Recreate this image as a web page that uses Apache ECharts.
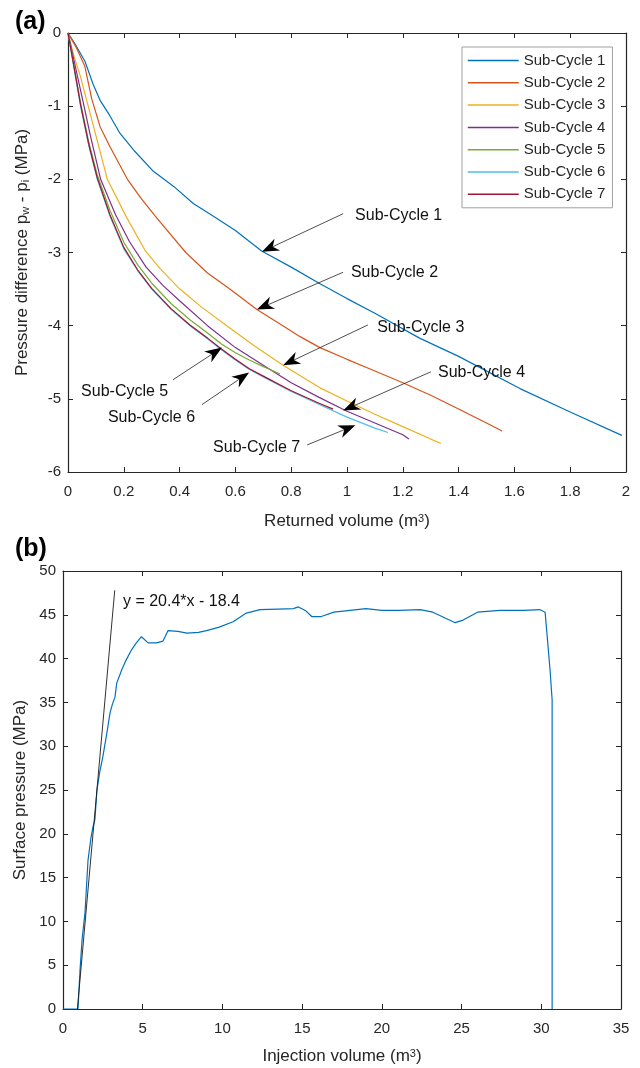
<!DOCTYPE html>
<html>
<head>
<meta charset="utf-8">
<script src="https://cdn.jsdelivr.net/npm/echarts@6/dist/echarts.min.js"></script>
<style>
html, body { margin: 0; padding: 0; background: #fff; }
#chart { width: 640px; height: 1068px; }
</style>
</head>
<body>
<div id="chart"></div>
<script>
// ---- Panel (a): pressure difference vs returned volume, one curve per sub-cycle ----
const cycleNames = ['Sub-Cycle 1', 'Sub-Cycle 2', 'Sub-Cycle 3', 'Sub-Cycle 4', 'Sub-Cycle 5', 'Sub-Cycle 6', 'Sub-Cycle 7'];
const cycleColors = ['#0072BD', '#D95319', '#EDB120', '#7E2F8E', '#77AC30', '#4DBEEE', '#A2142F'];

const cycle1 = [[0,0],[0.03,-0.18],[0.061,-0.39],[0.09,-0.7],[0.115,-0.92],[0.15,-1.13],[0.186,-1.37],[0.24,-1.62],[0.306,-1.89],[0.38,-2.1],[0.449,-2.33],[0.52,-2.5],[0.6,-2.7],[0.694,-2.98],[0.8,-3.2],[0.9,-3.42],[1.0,-3.63],[1.1,-3.83],[1.26,-4.17],[1.4,-4.42],[1.62,-4.86],[1.8,-5.18],[1.985,-5.5]];
const cycle2 = [[0,0],[0.03,-0.2],[0.06,-0.45],[0.085,-0.9],[0.115,-1.28],[0.15,-1.55],[0.213,-2.0],[0.26,-2.25],[0.312,-2.5],[0.422,-3.0],[0.5,-3.28],[0.58,-3.5],[0.677,-3.78],[0.77,-4.0],[0.832,-4.15],[0.903,-4.3],[1.0,-4.46],[1.1,-4.62],[1.2,-4.78],[1.3,-4.95],[1.4,-5.14],[1.5,-5.33],[1.556,-5.44]];
const cycle3 = [[0,0],[0.02,-0.3],[0.045,-0.6],[0.067,-0.92],[0.1,-1.4],[0.141,-2.0],[0.21,-2.52],[0.276,-2.97],[0.33,-3.22],[0.401,-3.5],[0.48,-3.75],[0.569,-4.0],[0.67,-4.28],[0.771,-4.54],[0.903,-4.85],[1.0,-5.03],[1.1,-5.21],[1.2,-5.38],[1.3,-5.55],[1.337,-5.61]];
const cycle4 = [[0,0],[0.02,-0.35],[0.053,-0.92],[0.08,-1.4],[0.117,-2.0],[0.17,-2.48],[0.22,-2.85],[0.28,-3.2],[0.34,-3.45],[0.4,-3.66],[0.5,-4.0],[0.6,-4.3],[0.7,-4.54],[0.8,-4.78],[0.9,-4.98],[1.0,-5.17],[1.1,-5.33],[1.2,-5.49],[1.222,-5.55]];
const cycle5 = [[0,0],[0.02,-0.42],[0.045,-0.95],[0.075,-1.5],[0.105,-1.94],[0.15,-2.42],[0.2,-2.86],[0.25,-3.17],[0.3,-3.42],[0.37,-3.7],[0.437,-3.92],[0.5,-4.1],[0.55,-4.25],[0.6,-4.37],[0.65,-4.47],[0.7,-4.56],[0.724,-4.6],[0.76,-4.66]];
const cycle6 = [[0,0],[0.02,-0.45],[0.045,-1.0],[0.075,-1.55],[0.105,-2.0],[0.15,-2.5],[0.2,-2.95],[0.25,-3.25],[0.3,-3.5],[0.37,-3.78],[0.437,-4.0],[0.5,-4.18],[0.55,-4.33],[0.6,-4.47],[0.65,-4.6],[0.7,-4.7],[0.8,-4.9],[0.903,-5.08],[1.0,-5.25],[1.1,-5.4],[1.147,-5.46]];
const cycle7 = [[0,0],[0.02,-0.43],[0.045,-0.98],[0.075,-1.53],[0.105,-1.98],[0.15,-2.48],[0.2,-2.93],[0.25,-3.24],[0.3,-3.49],[0.37,-3.77],[0.437,-3.99],[0.5,-4.17],[0.55,-4.32],[0.6,-4.46],[0.65,-4.59],[0.7,-4.69],[0.8,-4.89],[0.9,-5.06],[0.95,-5.14]];
const cycleData = [cycle1, cycle2, cycle3, cycle4, cycle5, cycle6, cycle7];

// callouts in panel (a): text anchor (left-middle), arrow tail, arrow tip — data units
const noteText = ['Sub-Cycle 1', 'Sub-Cycle 2', 'Sub-Cycle 3', 'Sub-Cycle 4', 'Sub-Cycle 5', 'Sub-Cycle 6', 'Sub-Cycle 7'];
const noteAt   = [[1.029,-2.49],[1.014,-3.27],[1.108,-4.02],[1.326,-4.64],[0.047,-4.90],[0.143,-5.26],[0.52,-5.66]];
const noteTail = [[0.986,-2.47],[0.986,-3.27],[1.075,-3.99],[1.301,-4.63],[0.376,-4.74],[0.480,-5.08],[0.857,-5.63]];
const noteTip  = [[0.695,-2.99],[0.677,-3.78],[0.771,-4.54],[0.986,-5.16],[0.552,-4.30],[0.649,-4.64],[1.03,-5.36]];

// ---- Panel (b): surface pressure vs injection volume ----
const injection = [[0,0],[0.94,0],[1.07,4.5],[1.2,8],[1.38,11],[1.57,17],[1.75,19.5],[1.88,20.8],[2.0,21.6],[2.13,25],[2.3,27],[2.5,28.8],[2.75,31.5],[2.95,33.8],[3.1,34.8],[3.26,35.6],[3.37,37.2],[3.68,38.7],[3.95,39.8],[4.3,41],[4.6,41.8],[4.92,42.5],[5.34,41.8],[5.87,41.8],[6.27,42.0],[6.59,43.2],[7.2,43.1],[7.78,42.9],[8.5,43.0],[9.0,43.2],[9.8,43.6],[10.67,44.2],[11.5,45.2],[12.36,45.6],[13.5,45.65],[14.45,45.7],[14.76,45.9],[15.2,45.5],[15.6,44.8],[16.2,44.8],[17,45.3],[18,45.5],[19,45.7],[20,45.5],[21.1,45.5],[22.4,45.6],[23.2,45.3],[24,44.6],[24.6,44.1],[25.1,44.4],[26,45.3],[27.4,45.5],[28.9,45.5],[29.9,45.6],[30.24,45.3],[30.55,38.7],[30.68,35.3],[30.68,0]];
const fitLine = [[0.902,0],[3.245,47.8]];
const fitLabel = 'y = 20.4*x - 18.4';
const fitLabelAt = [[3.76,46.5]];

const FONT = '"Liberation Sans", Arial, Helvetica, sans-serif';
const INK = '#262626';

function axisBase(extra) {
  return Object.assign({
    type: 'value',
    splitLine: { show: false },
    axisLine: { show: true, onZero: false, lineStyle: { color: INK, width: 1.2 } },
    axisTick: { show: true, inside: true, length: 5, lineStyle: { color: INK, width: 1 } },
    axisLabel: { color: INK, fontSize: 15, fontFamily: FONT, margin: 12 },
    nameTextStyle: { color: INK, fontSize: 17, fontFamily: FONT }
  }, extra);
}
function mirrorAxis(extra) {
  const a = axisBase(extra);
  a.axisLabel = { show: false };
  return a;
}
const supRich = {
  t: { fontSize: 17, color: INK, fontFamily: FONT },
  s: { fontSize: 11, color: INK, fontFamily: FONT, verticalAlign: 'top' },
  b: { fontSize: 11, color: INK, fontFamily: FONT, verticalAlign: 'bottom' }
};

const arrowSeries = {
  type: 'custom',
  xAxisIndex: 0, yAxisIndex: 0,
  silent: true, z: 5,
  data: noteTail.map((t, i) => [t[0], t[1], noteTip[i][0], noteTip[i][1]]),
  encode: { x: [0, 2], y: [1, 3] },
  renderItem: function (params, api) {
    const p0 = api.coord([api.value(0), api.value(1)]);
    const p1 = api.coord([api.value(2), api.value(3)]);
    const dx = p1[0] - p0[0], dy = p1[1] - p0[1];
    const L = Math.hypot(dx, dy);
    const ux = dx / L, uy = dy / L, nx = -uy, ny = ux;
    const hl = 17, hw = 6.5, notch = 5;
    const base = [p1[0] - ux * hl, p1[1] - uy * hl];
    const back = [p1[0] - ux * (hl - notch), p1[1] - uy * (hl - notch)];
    return {
      type: 'group',
      children: [
        { type: 'line', shape: { x1: p0[0], y1: p0[1], x2: back[0], y2: back[1] }, style: { stroke: '#222', lineWidth: 0.8 } },
        { type: 'polygon', shape: { points: [p1, [base[0] + nx * hw, base[1] + ny * hw], back, [base[0] - nx * hw, base[1] - ny * hw]] }, style: { fill: '#000' } }
      ]
    };
  }
};

function textSeries(xi, yi, points, texts, size) {
  return {
    type: 'custom',
    xAxisIndex: xi, yAxisIndex: yi,
    silent: true, z: 6,
    data: points.map((p, i) => [p[0], p[1], i]),
    encode: { x: 0, y: 1 },
    renderItem: function (params, api) {
      const p = api.coord([api.value(0), api.value(1)]);
      return {
        type: 'text', x: p[0], y: p[1],
        style: { text: texts[api.value(2)], fontSize: size, fontFamily: FONT, fill: '#111', align: 'left', verticalAlign: 'middle' }
      };
    }
  };
}

const cycleSeries = cycleData.map((d, i) => ({
  name: cycleNames[i],
  type: 'line',
  xAxisIndex: 0, yAxisIndex: 0,
  data: d,
  symbol: 'none', showSymbol: false,
  smooth: false,
  lineStyle: { color: cycleColors[i], width: 1.2 },
  itemStyle: { color: cycleColors[i] },
  z: 3
}));

const option = {
  animation: false,
  backgroundColor: '#fff',
  textStyle: { fontFamily: FONT },
  grid: [
    { left: 68, top: 33, width: 558, height: 439 },
    { left: 63, top: 571, width: 558, height: 438 }
  ],
  legend: {
    data: cycleNames,
    orient: 'vertical',
    left: 462, top: 47,
    itemWidth: 51, itemHeight: 14, itemGap: 7.3,
    padding: [6, 7, 6, 5],
    borderColor: '#a0a0a0', borderWidth: 1,
    backgroundColor: '#fff',
    itemStyle: { opacity: 0 },
    lineStyle: { width: 1.5 },
    textStyle: { fontSize: 15, fontFamily: FONT, color: INK },
    selectedMode: false
  },
  xAxis: [
    axisBase({ gridIndex: 0, position: 'bottom', min: 0, max: 2, interval: 0.2,
      name: '{t|Returned volume (m}{s|3}{t|)}', nameLocation: 'middle', nameGap: 41,
      nameTextStyle: { color: INK, fontFamily: FONT, rich: supRich } }),
    mirrorAxis({ gridIndex: 0, position: 'top', min: 0, max: 2, interval: 0.2 }),
    axisBase({ gridIndex: 1, position: 'bottom', min: 0, max: 35, interval: 5,
      name: '{t|Injection volume (m}{s|3}{t|)}', nameLocation: 'middle', nameGap: 39,
      nameTextStyle: { color: INK, fontFamily: FONT, rich: supRich } }),
    mirrorAxis({ gridIndex: 1, position: 'top', min: 0, max: 35, interval: 5 })
  ],
  yAxis: [
    axisBase({ gridIndex: 0, position: 'left', min: -6, max: 0, interval: 1,
      name: '{t|Pressure difference p}{b|w}{t| - p}{b|i}{t| (MPa)}', nameLocation: 'middle', nameGap: 37, nameRotate: 90,
      axisLabel: { color: INK, fontSize: 15, fontFamily: FONT, margin: 7 },
      nameTextStyle: { color: INK, fontFamily: FONT, rich: supRich } }),
    mirrorAxis({ gridIndex: 0, position: 'right', min: -6, max: 0, interval: 1 }),
    axisBase({ gridIndex: 1, position: 'left', min: 0, max: 50, interval: 5,
      name: 'Surface pressure (MPa)', nameLocation: 'middle', nameGap: 27, nameRotate: 90,
      axisLabel: { color: INK, fontSize: 15, fontFamily: FONT, margin: 7 } }),
    mirrorAxis({ gridIndex: 1, position: 'right', min: 0, max: 50, interval: 5 })
  ],
  series: cycleSeries.concat([
    arrowSeries,
    textSeries(0, 0, noteAt, noteText, 16),
    {
      name: 'Surface pressure', type: 'line', xAxisIndex: 2, yAxisIndex: 2,
      data: injection, symbol: 'none', showSymbol: false,
      lineStyle: { color: '#0072BD', width: 1.2 }, z: 3
    },
    {
      name: 'Linear fit', type: 'line', xAxisIndex: 2, yAxisIndex: 2,
      data: fitLine, symbol: 'none', showSymbol: false,
      lineStyle: { color: '#1a1a1a', width: 0.9 }, z: 4
    },
    textSeries(2, 2, fitLabelAt, [fitLabel], 16)
  ]),
  graphic: [
    { type: 'text', left: 15, top: 10, style: { text: '(a)', fontSize: 25, fontWeight: 'bold', fontFamily: FONT, fill: '#000' } },
    { type: 'text', left: 15, top: 537, style: { text: '(b)', fontSize: 25, fontWeight: 'bold', fontFamily: FONT, fill: '#000' } }
  ]
};

const chart = echarts.init(document.getElementById('chart'), null, { renderer: 'canvas' });
chart.setOption(option);
</script>
</body>
</html>
